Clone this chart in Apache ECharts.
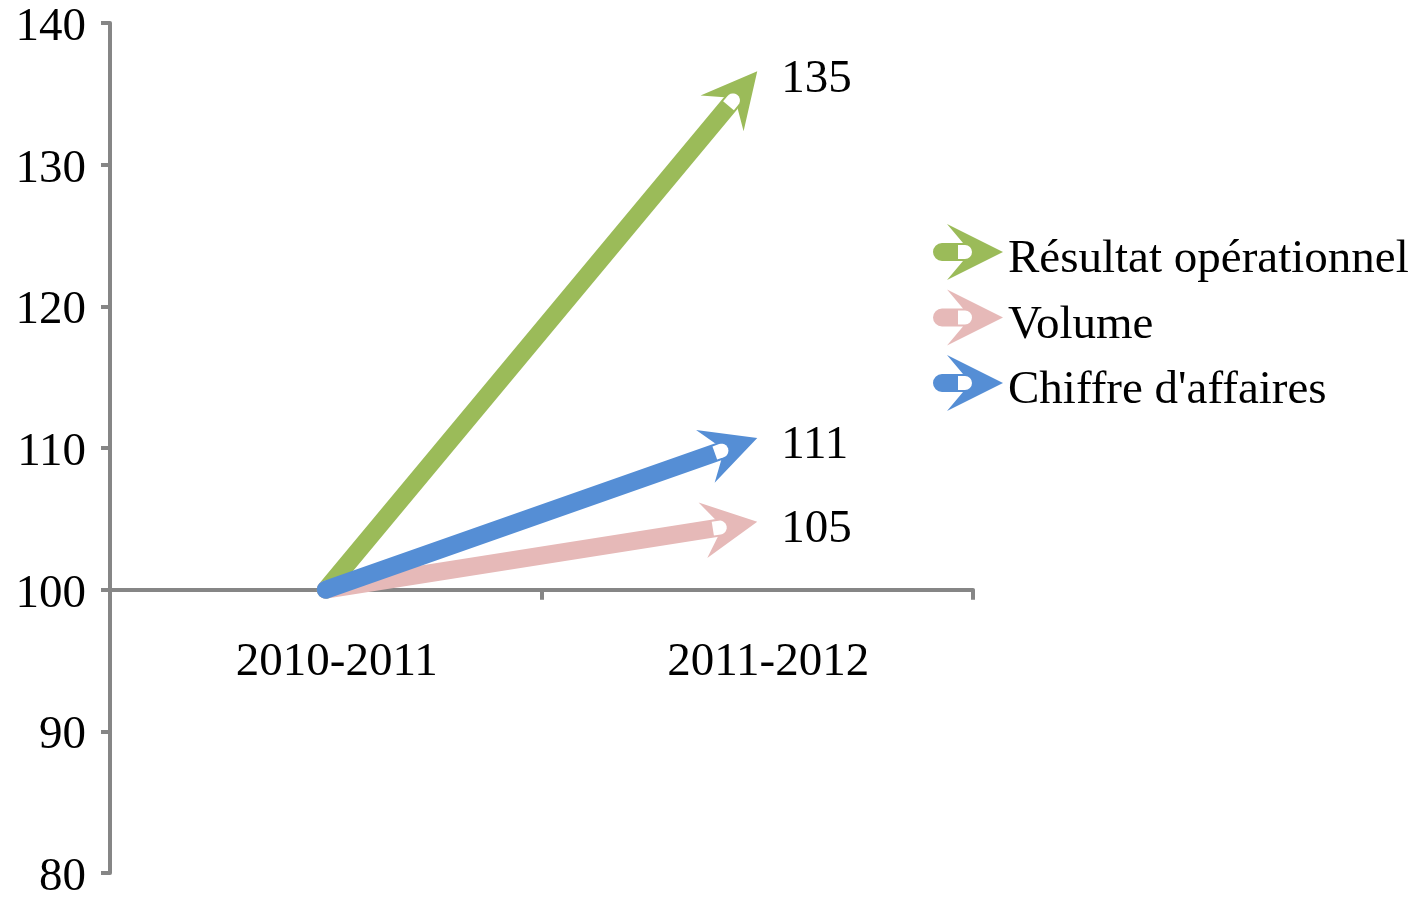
<!DOCTYPE html>
<html>
<head>
<meta charset="utf-8">
<script src="https://cdn.jsdelivr.net/npm/echarts@6/dist/echarts.min.js"></script>
<style>
html,body{margin:0;padding:0;background:#fff;}
#chart{width:1425px;height:898px;}
</style>
</head>
<body>
<div id="chart"></div>
<script>
// ---- data ----
const categories = ['2010-2011', '2011-2012'];
const seriesNames = ['Résultat opérationnel', 'Volume', "Chiffre d'affaires"];
const resultat = [100, 136.6];
const volume = [100, 104.8];
const chiffre = [100, 110.7];
const endLabels = ['135', '105', '111'];
const yTicks = { min: 80, max: 140, interval: 10 };
const crossValue = 100;

// ---- styles ----
const colors = ['#9BBB59', '#E6B9B8', '#558ED5'];
const FONT = '"Liberation Serif", "Times New Roman", serif';
const FS = 47;
const AXIS = '#868686';

const ICON = 'path://M0 0 L-56 28 L-40 9 L-61 9 A9 9 0 0 1 -61 -9 L-40 -9 L-56 -28 Z ' +
             'M-45 -7 L-45 7 L-38 7 A7 7 0 0 0 -38 -7 Z';

const chart = echarts.init(document.getElementById('chart'), null, { renderer: 'canvas' });

const gridTop = 23, gridBottom = 25;
const gridH = 898 - gridTop - gridBottom;
const xOffset = -((crossValue - yTicks.min) / (yTicks.max - yTicks.min)) * gridH;

function makeRender(label) {
  return function (params, api) {
    if (params.dataIndex === 0) return null;
    const i = params.dataIndex;
    const p0 = api.coord([api.value(0, i - 1), api.value(1, i - 1)]);
    const p1 = api.coord([api.value(0, i), api.value(1, i)]);
    const color = api.visual('color');
    const dx = p1[0] - p0[0], dy = p1[1] - p0[1];
    const len = Math.sqrt(dx * dx + dy * dy);
    const u = [dx / len, dy / len];
    const n = [-u[1], u[0]];
    const P = (a, b) => [p1[0] + a * u[0] + b * n[0], p1[1] + a * u[1] + b * n[1]];
    const lineEnd = P(-42, 0);
    const arrow = [P(0, 0), P(-55, 28), P(-35, 0), P(-55, -28)];
    const notch = [P(-45, -7), P(-45, 7)];
    for (let t = 90; t >= -90; t -= 15) {
      const r = t * Math.PI / 180;
      notch.push(P(-38 + 7 * Math.cos(r), 7 * Math.sin(r)));
    }
    return {
      type: 'group',
      children: [
        { type: 'polyline', shape: { points: [p0, lineEnd] },
          style: { stroke: color, lineWidth: 18, lineCap: 'round', fill: null } },
        { type: 'polygon', shape: { points: arrow }, style: { fill: color } },
        { type: 'polygon', shape: { points: notch }, style: { fill: '#fff' } },
        { type: 'text', x: p1[0] + 24, y: p1[1] + 8,
          style: { text: label, fill: '#000', fontSize: FS, fontFamily: FONT,
                   align: 'left', verticalAlign: 'middle' } }
      ]
    };
  };
}

const dataSets = [resultat, volume, chiffre];
const series = dataSets.map((vals, k) => ({
  type: 'custom',
  name: seriesNames[k],
  renderItem: makeRender(endLabels[k]),
  itemStyle: { color: colors[k] },
  encode: { x: 0, y: 1 },
  data: vals.map((v, i) => [i, v]),
  z: 2 + k
}));

const option = {
  animation: false,
  backgroundColor: '#ffffff',
  grid: { left: 110, right: 452, top: gridTop, bottom: gridBottom, containLabel: false, outerBoundsMode: 'none' },
  legend: {
    orient: 'vertical',
    left: 933,
    top: 224,
    padding: 0,
    itemWidth: 70,
    itemHeight: 56,
    itemGap: 6,
    icon: ICON,
    itemStyle: { borderWidth: 0 },
    formatter: '{t|{name}}',
    textStyle: {
      fontFamily: FONT, fontSize: FS, color: '#000',
      rich: { t: { fontFamily: FONT, fontSize: FS, color: '#000', padding: [16, 0, 0, 0] } }
    },
    data: seriesNames
  },
  xAxis: {
    type: 'category',
    data: categories,
    boundaryGap: true,
    offset: xOffset,
    axisLine: { show: true, lineStyle: { color: AXIS, width: 4 } },
    axisTick: { show: true, length: 10, lineStyle: { color: AXIS, width: 4 } },
    axisLabel: { fontFamily: FONT, fontSize: FS, color: '#000', margin: 49, padding: [0, 0, 0, 22] },
    splitLine: { show: false }
  },
  yAxis: {
    type: 'value',
    min: yTicks.min,
    max: yTicks.max,
    interval: yTicks.interval,
    axisLine: { show: true, lineStyle: { color: AXIS, width: 4 } },
    axisTick: { show: true, length: 9, lineStyle: { color: AXIS, width: 4 } },
    axisLabel: {
      fontFamily: FONT, fontSize: FS, color: '#000', margin: 24,
      formatter: '{v|{value}}',
      rich: { v: { fontFamily: FONT, fontSize: FS, color: '#000', padding: [9, 0, 0, 0] } }
    },
    splitLine: { show: false }
  },
  series: series
};

chart.setOption(option);
</script>
</body>
</html>
